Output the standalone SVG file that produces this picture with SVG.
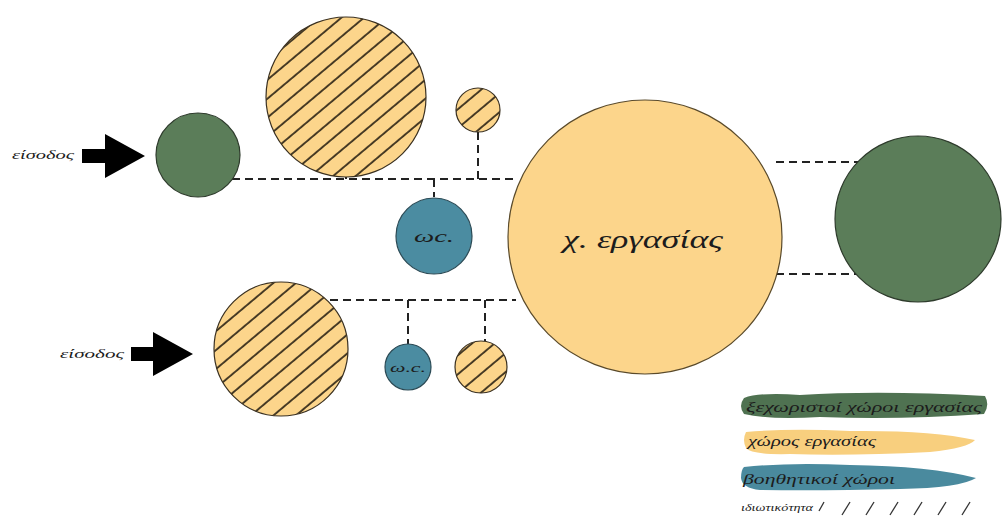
<svg xmlns="http://www.w3.org/2000/svg" width="1003" height="520" viewBox="0 0 1003 520">
<style>
.t{font-family:"Liberation Serif",serif;font-style:italic;fill:#1c1c1c}
.g{fill:#5b7d59;stroke:#2e3b2c;stroke-width:1.2}
.y{fill:#fcd58b;stroke:#5a4a2a;stroke-width:1.2}
.b{fill:#4b8ca1;stroke:#2b4a55;stroke-width:1.2}
.h{fill:url(#hatch);stroke:#3a3020;stroke-width:1.2}
.d{stroke:#222;stroke-width:2;stroke-dasharray:8 5;fill:none}
.arrow{fill:#000}
</style>
<defs>
<pattern id="hatch" patternUnits="userSpaceOnUse" width="20" height="14.5" patternTransform="rotate(-40)">
<rect width="20" height="14.5" fill="#fcd58b"/>
<line x1="0" y1="1" x2="20" y2="1" stroke="#2d2415" stroke-width="1.7"/>
</pattern>
</defs>
<rect width="1003" height="520" fill="#fff"/>
<g id="connectors">
<path class="d" d="M232 179 H518"/>
<path class="d" d="M346 176 V179"/>
<path class="d" d="M434 179 V197"/>
<path class="d" d="M478 132 V179"/>
<path class="d" d="M330 300 H516"/>
<path class="d" d="M408 300 V344"/>
<path class="d" d="M485 300 V341"/>
<path class="d" d="M776 162 H862"/>
<path class="d" d="M776 274 H856"/>
</g>
<g id="entry1">
<text class="t" x="12" y="159" font-size="13" textLength="62" lengthAdjust="spacingAndGlyphs">είσοδος</text>
<path class="arrow" d="M82 149 H105 V134 L145 156 L105 178 V163 H82 Z"/>
</g>
<g id="entry2">
<text class="t" x="60" y="358" font-size="13" textLength="64" lengthAdjust="spacingAndGlyphs">είσοδος</text>
<path class="arrow" d="M131 347 H153 V332 L193 354 L153 376 V361 H131 Z"/>
</g>
<g id="n-green-left"><circle class="g" cx="198" cy="155" r="42"/></g>
<g id="n-hatch-top-big"><circle class="h" cx="346" cy="97" r="80"/></g>
<g id="n-hatch-top-small"><circle class="h" cx="478" cy="110" r="22"/></g>
<g id="n-wc1"><circle class="b" cx="434" cy="236" r="38"/>
<text class="t" x="414" y="242" font-size="16" textLength="40" lengthAdjust="spacingAndGlyphs">ωc.</text></g>
<g id="n-work"><circle class="y" cx="645" cy="237" r="137"/>
<text class="t" x="563" y="248" font-size="26" textLength="160" lengthAdjust="spacingAndGlyphs">χ. εργασίας</text></g>
<g id="n-green-right"><circle class="g" cx="918" cy="219" r="83"/></g>
<g id="n-hatch-bottom-big"><circle class="h" cx="281" cy="349" r="67"/></g>
<g id="n-wc2"><circle class="b" cx="408" cy="367" r="23"/>
<text class="t" x="390" y="372" font-size="13" textLength="36" lengthAdjust="spacingAndGlyphs">ω.c.</text></g>
<g id="n-hatch-bottom-small"><circle class="h" cx="481" cy="367" r="26"/></g>
<g id="legend">
<path d="M744 398 Q760 392 800 395 Q880 390 985 396 Q990 405 984 414 Q900 420 820 417 Q770 420 744 414 Q738 406 744 398 Z" fill="#4f7251"/>
<text class="t" x="746" y="412" font-size="14" textLength="236" lengthAdjust="spacingAndGlyphs">ξεχωριστοί χώροι εργασίας</text>
<path d="M746 432 Q790 428 850 431 Q930 430 975 440 Q968 448 930 452 Q850 456 790 454 Q752 455 746 448 Q742 440 746 432 Z" fill="#f8cf7e"/>
<text class="t" x="748" y="446" font-size="14" textLength="128" lengthAdjust="spacingAndGlyphs">χώρος εργασίας</text>
<path d="M744 467 Q790 462 850 465 Q930 466 976 478 Q960 488 900 489 Q820 491 760 490 Q742 488 741 478 Q741 470 744 467 Z" fill="#4a8a9e"/>
<text class="t" x="743" y="484" font-size="14" textLength="152" lengthAdjust="spacingAndGlyphs">βοηθητικοί χώροι</text>
<text class="t" x="741" y="511" font-size="11" textLength="72" lengthAdjust="spacingAndGlyphs">ιδιωτικότητα</text>
<g stroke="#333" stroke-width="1.3">
<line x1="819" y1="511" x2="824" y2="502"/>
<line x1="842" y1="515" x2="850" y2="502"/>
<line x1="866" y1="515" x2="874" y2="502"/>
<line x1="890" y1="515" x2="898" y2="502"/>
<line x1="914" y1="515" x2="922" y2="502"/>
<line x1="938" y1="515" x2="946" y2="502"/>
<line x1="962" y1="515" x2="970" y2="502"/>
</g>
</g>
</svg>
